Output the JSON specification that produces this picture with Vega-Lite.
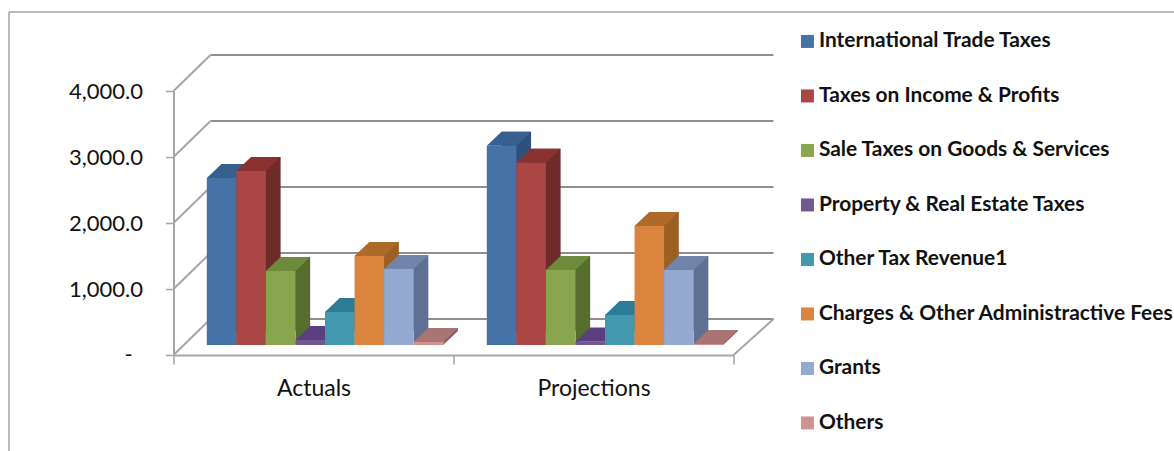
{
  "$schema": "https://vega.github.io/schema/vega-lite/v6.json",
  "autosize": {"type": "none"},
  "padding": {"left": 173.5, "top": 91, "right": 440.5, "bottom": 96},
  "width": 560,
  "height": 264,
  "background": "white",
  "config": {"view": {"stroke": null}, "font": "Lato"},
  "datasets": {
    "revenue": [
      {"period": "Actuals", "source": "International Trade Taxes", "amount": 2530},
      {"period": "Actuals", "source": "Taxes on Income & Profits", "amount": 2636},
      {"period": "Actuals", "source": "Sale Taxes on Goods & Services", "amount": 1121},
      {"period": "Actuals", "source": "Property & Real Estate Taxes", "amount": 76},
      {"period": "Actuals", "source": "Other Tax Revenue1", "amount": 500},
      {"period": "Actuals", "source": "Charges & Other Administractive Fees", "amount": 1348},
      {"period": "Actuals", "source": "Grants", "amount": 1152},
      {"period": "Actuals", "source": "Others", "amount": 45},
      {"period": "Projections", "source": "International Trade Taxes", "amount": 3020},
      {"period": "Projections", "source": "Taxes on Income & Profits", "amount": 2762},
      {"period": "Projections", "source": "Sale Taxes on Goods & Services", "amount": 1136},
      {"period": "Projections", "source": "Property & Real Estate Taxes", "amount": 50},
      {"period": "Projections", "source": "Other Tax Revenue1", "amount": 455},
      {"period": "Projections", "source": "Charges & Other Administractive Fees", "amount": 1803},
      {"period": "Projections", "source": "Grants", "amount": 1136},
      {"period": "Projections", "source": "Others", "amount": 15}
    ],
    "frame": [
      {"a": -164.5, "b": 1001, "v": 5197, "v2": 5197},
      {"a": -164.5, "b": -164.5, "v": 5197, "v2": -1455}
    ],
    "zeroLabel": [
      {"a": -45, "v": 0, "label": "-"}
    ],
    "backWall": [
      {"a": 37, "b": 600, "v": 545, "v2": 545},
      {"a": 37, "b": 600, "v": 1545, "v2": 1545},
      {"a": 37, "b": 600, "v": 2545, "v2": 2545},
      {"a": 37, "b": 600, "v": 3545, "v2": 3545},
      {"a": 37, "b": 600, "v": 4545, "v2": 4545}
    ],
    "sideWall": [
      {"a": 0, "b": 37, "v": 0, "v2": 545},
      {"a": 0, "b": 37, "v": 1000, "v2": 1545},
      {"a": 0, "b": 37, "v": 2000, "v2": 2545},
      {"a": 0, "b": 37, "v": 3000, "v2": 3545},
      {"a": 0, "b": 37, "v": 4000, "v2": 4545},
      {"a": 560, "b": 600, "v": 0, "v2": 545}
    ]
  },
  "layer": [
    {
      "data": {"name": "frame"},
      "mark": {"type": "rule", "stroke": "#a3a3a3", "strokeWidth": 1.5},
      "encoding": {
        "x": {"field": "a", "type": "quantitative", "scale": {"domain": [0, 560], "nice": false, "zero": false}, "axis": null},
        "x2": {"field": "b"},
        "y": {"field": "v", "type": "quantitative", "scale": {"domain": [0, 4000], "nice": false}, "axis": {"title": null, "values": [0, 1000, 2000, 3000, 4000], "grid": false, "domainColor": "#a6a6a6", "domainWidth": 2, "tickColor": "#a6a6a6", "tickWidth": 1.5, "tickSize": 8, "labelPadding": 23, "labelFontSize": 22, "labelFont": "Lato", "labelColor": "#111111", "labelExpr": "datum.value === 0 ? '' : format(datum.value, ',.1f')"}},
        "y2": {"field": "v2"}
      }
    },
    {
      "data": {"name": "zeroLabel"},
      "mark": {"type": "text", "font": "Lato", "fontSize": 22, "color": "#111111", "align": "center", "baseline": "middle"},
      "encoding": {
        "x": {"field": "a", "type": "quantitative", "scale": {"domain": [0, 560], "nice": false, "zero": false}, "axis": null},
        "y": {"field": "v", "type": "quantitative"},
        "text": {"field": "label"}
      }
    },
    {
      "data": {"name": "backWall"},
      "mark": {"type": "rule", "stroke": "#8f8f8f", "strokeWidth": 2},
      "encoding": {
        "x": {"field": "a", "type": "quantitative", "scale": {"domain": [0, 560], "nice": false, "zero": false}, "axis": null},
        "x2": {"field": "b"},
        "y": {"field": "v", "type": "quantitative"},
        "y2": {"field": "v2"}
      }
    },
    {
      "data": {"name": "sideWall"},
      "mark": {"type": "rule", "stroke": "#a6a6a6", "strokeWidth": 2},
      "encoding": {
        "x": {"field": "a", "type": "quantitative", "scale": {"domain": [0, 560], "nice": false, "zero": false}, "axis": null},
        "x2": {"field": "b"},
        "y": {"field": "v", "type": "quantitative"},
        "y2": {"field": "v2"}
      }
    },
    {
      "data": {"name": "revenue"},
      "encoding": {
        "x": {
          "field": "period", "type": "nominal",
          "scale": {"paddingInner": 0, "paddingOuter": 0},
          "axis": {"title": null, "labelAngle": 0, "tickBand": "extent", "domainColor": "#a6a6a6", "domainWidth": 2, "tickColor": "#a6a6a6", "tickWidth": 1.5, "tickSize": 9, "labelPadding": 13, "labelFontSize": 23, "labelFont": "Lato", "labelColor": "#111111"}
        }
      },
      "layer": [
        {
          "mark": {"type": "bar", "yOffset": -24},
          "encoding": {
            "xOffset": {"field": "source", "type": "nominal", "sort": null, "scale": {"paddingInner": 0, "paddingOuter": 0, "range": [48, 284.4]}},
            "y": {"field": "amount", "type": "quantitative"},
            "color": {
              "field": "source", "type": "nominal", "sort": null, "legend": null,
              "scale": {"range": ["#2f4f7c", "#6e2b2a", "#566d2e", "#4a3570", "#25687e", "#9c5f24", "#5e7192", "#8f5f5f"]}
            }
          }
        },
        {
          "mark": {"type": "point", "filled": true, "opacity": 1, "size": 4, "shape": "M26.3,-10L26.3,-24L41,-24Z"},
          "encoding": {
            "xOffset": {"field": "source", "type": "nominal", "sort": null, "scale": {"paddingInner": 0, "paddingOuter": 0, "range": [36.58, 243.42]}},
            "y": {"datum": 0},
            "color": {
              "field": "source", "type": "nominal", "sort": null, "legend": null,
              "scale": {"range": ["#2f4f7c", "#6e2b2a", "#566d2e", "#4a3570", "#25687e", "#9c5f24", "#5e7192", "#8f5f5f"]}
            }
          }
        },
        {
          "mark": {"type": "point", "filled": true, "opacity": 1, "size": 4, "shape": "M-3.3,-10L26.3,-10L41,-24L11.4,-24Z"},
          "encoding": {
            "xOffset": {"field": "source", "type": "nominal", "sort": null, "scale": {"paddingInner": 0, "paddingOuter": 0, "range": [36.58, 243.42]}},
            "y": {"field": "amount", "type": "quantitative"},
            "color": {
              "field": "source", "type": "nominal", "sort": null, "legend": null,
              "scale": {"range": ["#37608f", "#8a3230", "#6e8a3d", "#5b3f80", "#2c7c96", "#ae6a28", "#7085a9", "#a87474"]}
            }
          }
        },
        {
          "mark": {"type": "bar", "yOffset": -10},
          "encoding": {
            "xOffset": {"field": "source", "type": "nominal", "sort": null, "scale": {"paddingInner": 0, "paddingOuter": 0, "range": [33.3, 269.7]}},
            "y": {"field": "amount", "type": "quantitative"},
            "color": {
              "field": "source", "type": "nominal", "sort": null,
              "scale": {"range": ["#4572a7", "#aa4643", "#89a54e", "#71588f", "#4198af", "#db843d", "#93a9cf", "#d19392"]},
              "legend": {
                "title": null, "orient": "none", "legendX": 623.5, "legendY": -60,
                "symbolType": "square", "symbolSize": 169, "symbolStrokeWidth": 0,
                "labelFont": "Lato", "labelFontWeight": "bold", "labelFontSize": 20.9, "labelColor": "#111111",
                "labelOffset": 1, "labelLimit": 0, "rowPadding": 32.5
              }
            }
          }
        }
      ],
      "resolve": {"scale": {"color": "independent", "xOffset": "independent"}}
    }
  ],
  "resolve": {"scale": {"x": "independent", "xOffset": "independent", "color": "independent"}}
}
